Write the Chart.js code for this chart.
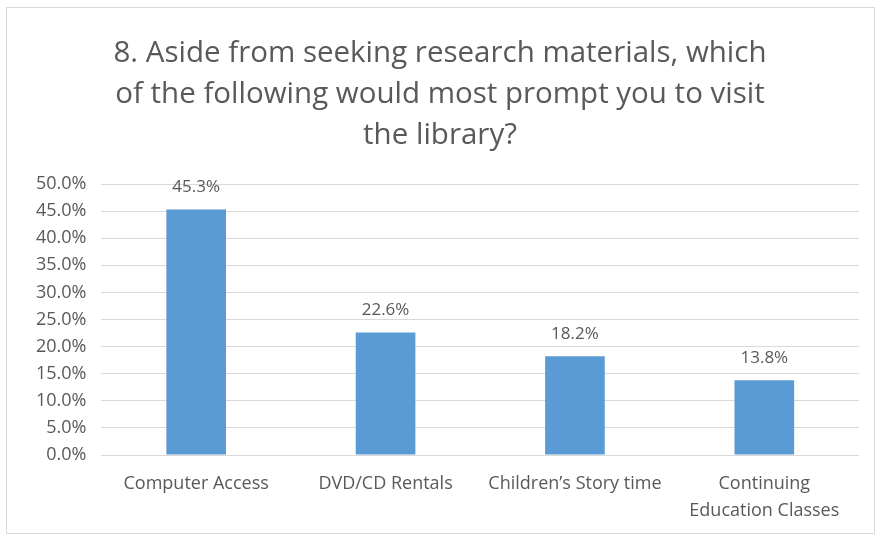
<!DOCTYPE html>
<html>
<head>
<meta charset="utf-8">
<script src="https://cdn.jsdelivr.net/npm/chart.js@4/dist/chart.umd.min.js"></script>
<style>
    body { margin: 0; background: #fff; }
    #wrap {
        position: absolute; left: 6px; top: 7px;
        width: 867px; height: 525px;
        border: 1px solid #d9d9d9;
    }
</style>
</head>
<body>
<div id="wrap"><canvas id="chart"></canvas></div>
<script>
// chart data
const categories = ['Computer Access', 'DVD/CD Rentals', 'Children\u2019s Story time', ['Continuing', 'Education Classes']];
const percentValues = [45.3, 22.6, 18.2, 13.8];
const titleLines = ['8. Aside from seeking research materials, which', 'of the following would most prompt you to visit', 'the library?'];

const textColor = '#595959';
const fontFamily = '"Open Sans", Lato, sans-serif';

// draws the value above each bar
const valueLabels = {
    id: 'valueLabels',
    afterDatasetsDraw(chart) {
        const ctx = chart.ctx;
        const meta = chart.getDatasetMeta(0);
        ctx.save();
        ctx.fillStyle = textColor;
        ctx.font = '17px ' + fontFamily;
        ctx.textAlign = 'center';
        ctx.textBaseline = 'middle';
        meta.data.forEach((bar, i) => {
            ctx.fillText(percentValues[i].toFixed(1) + '%', bar.x, bar.y - 22);
        });
        ctx.restore();
    }
};

const ctx = document.getElementById('chart').getContext('2d');
new Chart(ctx, {
    type: 'bar',
    data: {
        labels: categories,
        datasets: [{
            data: percentValues,
            backgroundColor: '#5b9bd5',
            borderWidth: 0,
            categoryPercentage: 1,
            barPercentage: 0.315
        }]
    },
    options: {
        responsive: true,
        maintainAspectRatio: false,
        animation: false,
        layout: { padding: { left: 14, right: 15, top: 0, bottom: 2 } },
        plugins: {
            legend: { display: false },
            tooltip: { enabled: false },
            title: {
                display: true,
                text: titleLines,
                color: textColor,
                font: { family: fontFamily, size: 29.5, weight: 'normal', lineHeight: 1.39 },
                padding: { top: 25, bottom: 28 }
            }
        },
        scales: {
            x: {
                grid: { display: false },
                border: { display: false },
                ticks: {
                    color: textColor,
                    font: { family: fontFamily, size: 18, lineHeight: 1.5 },
                    maxRotation: 0,
                    padding: 7
                }
            },
            y: {
                min: 0,
                max: 50,
                grid: { color: '#d9d9d9', drawTicks: false },
                border: { display: false },
                ticks: {
                    stepSize: 5,
                    color: textColor,
                    font: { family: fontFamily, size: 18 },
                    padding: 15,
                    callback: v => v.toFixed(1) + '%'
                }
            }
        }
    },
    plugins: [valueLabels]
});
</script>
</body>
</html>
